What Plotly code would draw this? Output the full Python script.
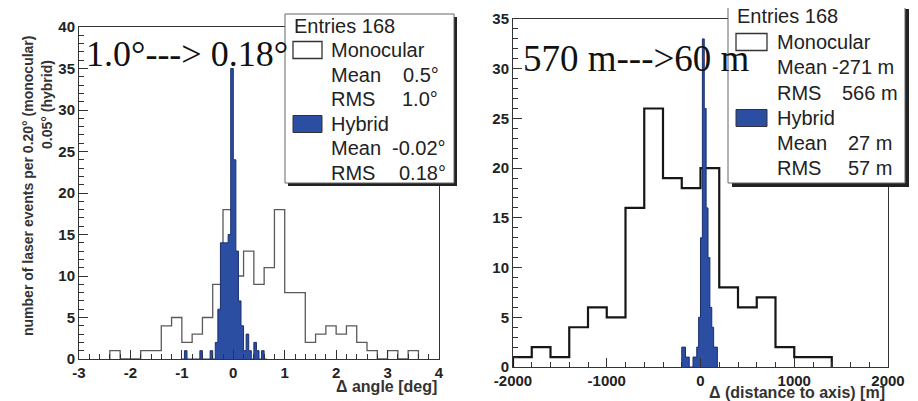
import plotly.graph_objects as go

# page body has an 8px default margin: draw the figure 8px smaller and shift coordinates
OFF = 8
FW, FH = 910, 393

# ---------------- data ----------------
# Left panel: delta angle [deg]
mono_angle_start = -2.4
mono_angle_width = 0.2
mono_angle_counts = [1, 0, 0, 1, 1, 4, 5, 2, 3, 5, 9, 18, 10, 13, 9, 11, 18, 8, 8,
                     2, 3, 4, 3, 4, 2, 1, 0, 1, 0, 1]

hyb_angle_start = -1.0
hyb_angle_width = 0.05
hyb_angle_counts = [0, 1, 0, 0, 0, 0, 0, 1, 0, 0, 0, 1, 0, 2, 6, 14, 14, 14, 15,
                    35, 24, 13, 7, 4, 1, 3, 1, 0, 2, 1, 0, 1, 0]

# Right panel: delta distance to axis [m]
mono_dist_start = -2000
mono_dist_width = 200
mono_dist_counts = [1, 2, 1, 4, 6, 5, 16, 26, 19, 18, 20, 8, 6, 7, 2, 1, 1]

hyb_dist_start = -200
hyb_dist_width = 20
hyb_dist_counts = [2, 2, 1, 1, 0, 0, 1, 1, 2, 5, 13, 33, 26, 16, 11, 6, 4, 2, 2]

angle_x_ticks = [-3, -2, -1, 0, 1, 2, 3, 4]
angle_y_ticks = [0, 5, 10, 15, 20, 25, 30, 35, 40]
dist_x_ticks = [-2000, -1000, 0, 1000, 2000]
dist_y_ticks = [0, 5, 10, 15, 20, 25, 30, 35]

left_legend = [("Entries 168", None), ("Monocular", None), ("Mean", "0.5°"),
               ("RMS", "1.0°"), ("Hybrid", None), ("Mean", "-0.02°"), ("RMS", "0.18°")]
right_legend = [("Entries 168", None), ("Monocular", None), ("Mean", "-271 m"),
                ("RMS", "566 m"), ("Hybrid", None), ("Mean", "27 m"), ("RMS", "57 m")]


def step_xy(start, width, counts):
    n = len(counts)
    edges = [start + width * i for i in range(n + 1)]
    xs = [edges[0]] + edges
    ys = [0] + list(counts) + [0]
    return xs, ys


def px(x):
    return (x - OFF) / FW


def py(y):
    return 1 - (y - OFF) / FH


def labels(vals):
    return ["<b>%s</b>" % v for v in vals]


BLUE = "#2b4ea2"
NAVY = "#1b2f6e"

fig = go.Figure()

xs, ys = step_xy(mono_angle_start, mono_angle_width, mono_angle_counts)
fig.add_trace(go.Scatter(x=xs, y=ys, mode="lines", line=dict(shape="hv", color="#5a5a5a", width=1.3),
                         xaxis="x", yaxis="y", hoverinfo="skip"))
xs, ys = step_xy(hyb_angle_start, hyb_angle_width, hyb_angle_counts)
fig.add_trace(go.Scatter(x=xs, y=ys, mode="lines", fill="tozeroy", fillcolor=BLUE,
                         line=dict(shape="hv", color=NAVY, width=1), xaxis="x", yaxis="y", hoverinfo="skip"))

xs, ys = step_xy(mono_dist_start, mono_dist_width, mono_dist_counts)
fig.add_trace(go.Scatter(x=xs, y=ys, mode="lines", line=dict(shape="hv", color="#161616", width=2.2),
                         xaxis="x2", yaxis="y2", hoverinfo="skip"))
xs, ys = step_xy(hyb_dist_start, hyb_dist_width, hyb_dist_counts)
fig.add_trace(go.Scatter(x=xs, y=ys, mode="lines", fill="tozeroy", fillcolor=BLUE,
                         line=dict(shape="hv", color=NAVY, width=1), xaxis="x2", yaxis="y2", hoverinfo="skip"))

tickfont = dict(family="Liberation Sans", size=15, color="#222")
common = dict(ticks="inside", ticklen=9, tickwidth=1, tickcolor="#333", showline=True,
              linecolor="#333", linewidth=1, mirror=True, showgrid=False, zeroline=False,
              tickfont=tickfont, automargin=False)
minor_x = dict(ticks="inside", ticklen=5, tickcolor="#333", showgrid=False)

fig.update_layout(
    width=FW, height=FH, margin=dict(l=0, r=0, t=0, b=0, pad=0, autoexpand=False),
    paper_bgcolor="white", plot_bgcolor="white", showlegend=False,
    xaxis=dict(domain=[px(79), px(439)], range=[-3, 4], tickvals=angle_x_ticks,
               ticktext=labels(angle_x_ticks),
               minor=dict(dtick=0.2, **minor_x), anchor="y", **common),
    yaxis=dict(domain=[py(359), py(27)], range=[0, 40], tickvals=angle_y_ticks,
               ticktext=labels(angle_y_ticks),
               minor=dict(dtick=1, **minor_x), anchor="x", **common),
    xaxis2=dict(domain=[px(513), px(888)], range=[-2000, 2000], tickvals=dist_x_ticks,
                ticktext=labels(dist_x_ticks),
                minor=dict(dtick=200, **minor_x), anchor="y2", **common),
    yaxis2=dict(domain=[py(367), py(19)], range=[0, 35], tickvals=dist_y_ticks,
                ticktext=labels(dist_y_ticks),
                minor=dict(dtick=1, **minor_x), anchor="x2", **common),
)

shapes = []
ann = []


def text(x, y, s, size=20, anchor="left", family="Liberation Sans", color="#222", weight="normal",
         angle=0, yanchor="middle"):
    ann.append(dict(x=px(x), y=py(y), xref="paper", yref="paper", text=s, showarrow=False,
                    xanchor=anchor, yanchor=yanchor, textangle=angle,
                    font=dict(family=family, size=size, color=color, weight=weight)))


def rect(x0, y0, x1, y1, fill, line="#555", lw=1):
    shapes.append(dict(type="rect", xref="paper", yref="paper", x0=px(x0), x1=px(x1),
                       y0=py(y1), y1=py(y0), fillcolor=fill,
                       line=dict(color=line, width=lw), layer="above"))


def legend(box, label_x, value_xs, sym_x, ys, entries, shadow):
    x0, y0, x1, y1 = box
    rect(x0 + shadow, y0 + shadow, x1 + shadow, y1 + shadow, "#222", line="#222", lw=0)
    rect(x0, y0, x1, y1, "white", line="#666", lw=1)
    vi = 0
    for i, (lab, val) in enumerate(entries):
        y = ys[i]
        if i == 0:
            text(sym_x[0] - 1, y, lab)
            continue
        if lab == "Monocular":
            rect(sym_x[0], y - 8.5, sym_x[1], y + 8.5, "white", line="#333", lw=1.3)
        elif lab == "Hybrid":
            rect(sym_x[0], y - 8.5, sym_x[1], y + 8.5, BLUE, line="#333", lw=1)
        text(label_x, y, lab)
        if val is not None:
            text(value_xs[vi], y, val)
            vi += 1


legend((285, 14, 454, 183), 329, [401, 400, 390, 397], (293, 322),
       [26, 50, 75, 99, 124, 148, 173], left_legend, 3)
legend((728, 5, 905, 183), 775, [830, 840, 846, 846], (736, 767),
       [16, 42, 67, 93, 118, 143, 168], right_legend, 4)

# big annotations
text(84, 54, "1.0°---> 0.18°", size=36, family="Liberation Serif", color="#111")
text(521, 58, "570 m--->60 m", size=37, family="Liberation Serif", color="#111")

# axis titles
text(439, 386, "Δ angle [deg]", size=16, anchor="right", weight="bold", color="#333")
text(887, 392, "Δ (distance to axis) [m]", size=16, anchor="right", weight="bold", color="#333")
text(28, 186, "number of laser events per 0.20° (monocular)", size=14, anchor="center",
     weight="bold", color="#333", angle=-90)
text(47, 105, "0.05° (hybrid)", size=14, anchor="center", weight="bold", color="#333", angle=-90)

fig.update_layout(shapes=shapes, annotations=ann)
fig.write_html("out.html")
